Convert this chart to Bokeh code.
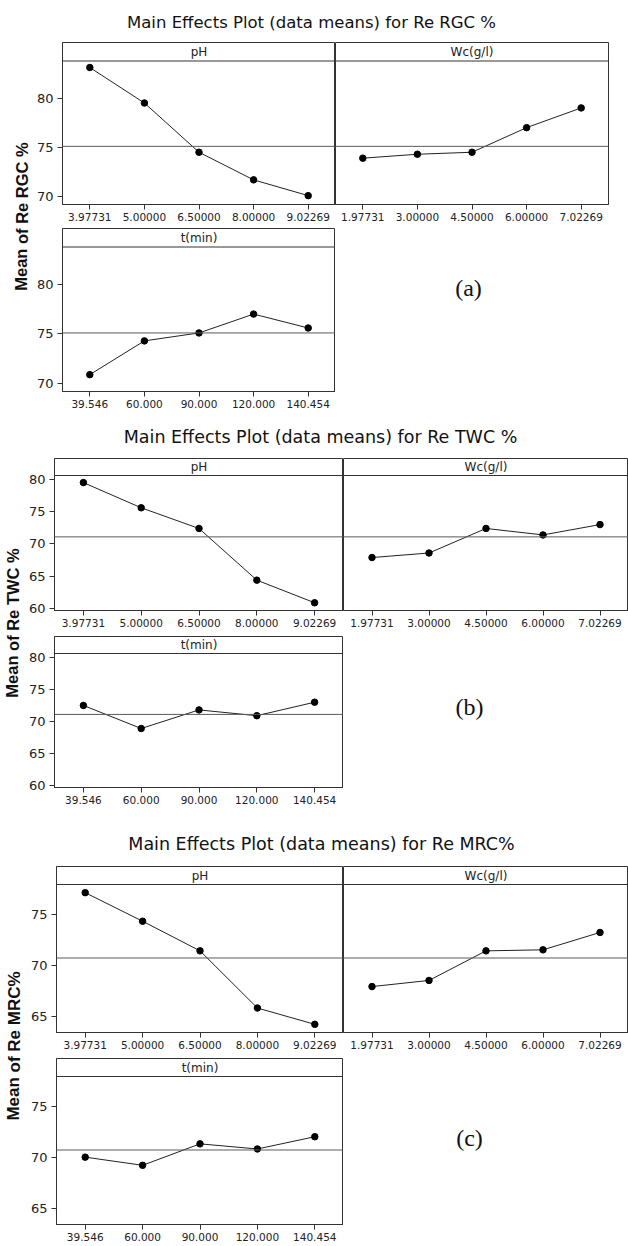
from bokeh.plotting import figure
from bokeh.layouts import column, row
from bokeh.models import FactorRange, Range1d, FixedTicker, Span
from bokeh.core.properties import value
from bokeh.embed import file_html
from bokeh.resources import INLINE

# ---------------- data ----------------
ph_levels = ["3.97731", "5.00000", "6.50000", "8.00000", "9.02269"]
wc_levels = ["1.97731", "3.00000", "4.50000", "6.00000", "7.02269"]
t_levels = ["39.546", "60.000", "90.000", "120.000", "140.454"]
factor_names = ["pH", "Wc(g/l)", "t(min)"]

titles = ["Main Effects Plot (data means) for Re RGC %",
          "Main Effects Plot (data means) for Re TWC %",
          "Main Effects Plot (data means) for Re MRC%"]
ylabels = ["Mean of Re RGC %", "Mean of Re TWC %", "Mean of Re MRC%"]
tags = ["(a)", "(b)", "(c)"]

rgc_ph = [83.1, 79.5, 74.5, 71.7, 70.1]
rgc_wc = [73.9, 74.3, 74.5, 77.0, 79.0]
rgc_t = [70.9, 74.3, 75.1, 77.0, 75.6]
rgc_mean = 75.1

twc_ph = [79.5, 75.6, 72.4, 64.4, 60.9]
twc_wc = [67.9, 68.6, 72.4, 71.4, 73.0]
twc_t = [72.5, 68.9, 71.8, 70.9, 73.0]
twc_mean = 71.1

mrc_ph = [77.1, 74.3, 71.4, 65.8, 64.2]
mrc_wc = [67.9, 68.5, 71.4, 71.5, 73.2]
mrc_t = [70.0, 69.2, 71.3, 70.8, 72.0]
mrc_mean = 70.7

rgc_yticks = [70, 75, 80]
twc_yticks = [60, 65, 70, 75, 80]
mrc_yticks = [65, 70, 75]

# ---------------- styles / geometry ----------------
W = 628
LINE = "#222222"
BOX = "#333333"
MEANC = "#5a5a5a"
FONT = "DejaVu Sans"

geom = [
    dict(ylo=69.2, yhi=83.76, label_w=33, lb=27, fwl=275, fwr=273, rb=20,
         title_h=42, title_x=311, title_y=22, title_fs="16.5px",
         uf=162, ub=24, lf=163, lbb=25, header=18.5,
         label_x=21, label_y=174, label_fs="16.5px",
         tag_x=133, tag_y=69),
    dict(ylo=59.7, yhi=80.6, label_w=24, lb=30, fwl=289, fwr=285, rb=0,
         title_h=42, title_x=320, title_y=20, title_fs="17.5px",
         uf=152, ub=26, lf=151, lbb=35, header=17,
         label_x=12, label_y=164.5, label_fs="16.5px",
         tag_x=126, tag_y=87),
    dict(ylo=63.4, yhi=77.9, label_w=26, lb=30, fwl=287, fwr=285, rb=0,
         title_h=44, title_x=321, title_y=21, title_fs="17.5px",
         uf=166, ub=26, lf=166, lbb=22, header=18,
         label_x=13.5, label_y=179.5, label_fs="17px",
         tag_x=126, tag_y=90),
]


def text_fig(w, h):
    p = figure(width=w, height=h, x_range=Range1d(0, w), y_range=Range1d(h, 0),
               output_backend="svg", toolbar_location=None,
               x_axis_location=None, y_axis_location=None,
               min_border=0, min_border_left=0, min_border_right=0,
               min_border_top=0, min_border_bottom=0,
               outline_line_color=None, background_fill_color="white",
               border_fill_color="white")
    p.grid.visible = False
    return p


def panel(levels, vals, mean, name, yticks, g, frame_w, frame_h, bottom,
          left, right, show_y):
    ylo, yhi, hp = g["ylo"], g["yhi"], g["header"]
    ytop = yhi + hp * (yhi - ylo) / (frame_h - hp)
    p = figure(width=left + frame_w + right, height=frame_h + bottom,
               x_range=FactorRange(factors=levels),
               y_range=Range1d(ylo, ytop),
               output_backend="svg", toolbar_location=None,
               y_axis_location="left" if show_y else None,
               min_border_left=left, min_border_right=right,
               min_border_top=0, min_border_bottom=bottom,
               background_fill_color="white", border_fill_color="white",
               outline_line_color=BOX, outline_line_width=1)
    p.grid.visible = False
    # header separator and grand mean
    p.add_layout(Span(location=yhi, dimension="width", line_color=BOX, line_width=1))
    p.add_layout(Span(location=mean, dimension="width", line_color=MEANC, line_width=1))
    p.line(levels, vals, line_color=LINE, line_width=1)
    p.scatter(levels, vals, size=6.5, fill_color="black", line_color="black")
    p.text(x=[levels[2]], y=[(yhi + ytop) / 2], text=[name],
           text_font=value(FONT), text_font_size="12px", text_color="#222222",
           text_align="center", text_baseline="middle")
    xa = p.xaxis[0]
    xa.major_label_text_font = FONT
    xa.major_label_text_font_size = "10.5px"
    xa.major_label_text_color = "#222222"
    xa.major_tick_out = 5
    xa.major_tick_in = 0
    xa.major_label_standoff = 3
    xa.axis_line_color = BOX
    xa.major_tick_line_color = BOX
    xa.minor_tick_line_color = None
    if show_y:
        ya = p.yaxis[0]
        ya.ticker = FixedTicker(ticks=yticks, minor_ticks=[])
        ya.major_label_text_font = FONT
        ya.major_label_text_font_size = "13px"
        ya.major_label_text_color = "#222222"
        ya.major_tick_out = 5
        ya.major_tick_in = 0
        ya.major_label_standoff = 4
        ya.axis_line_color = BOX
        ya.major_tick_line_color = BOX
    return p


def section(i, ph_vals, wc_vals, t_vals, mean, yticks):
    g = geom[i]
    title_f = text_fig(W, g["title_h"])
    title_f.text(x=[g["title_x"]], y=[g["title_y"]], text=[titles[i]],
                 text_font=value(FONT), text_font_size=g["title_fs"],
                 text_color="#111111", text_align="center", text_baseline="middle")

    grid_h = g["uf"] + g["ub"] + g["lf"] + g["lbb"]
    label_f = text_fig(g["label_w"], grid_h)
    label_f.text(x=[g["label_x"]], y=[g["label_y"]], text=[ylabels[i]],
                 angle=1.5707963, text_font=value("Liberation Sans"),
                 text_font_style="bold", text_font_size=g["label_fs"],
                 text_color="#111111", text_align="center", text_baseline="middle")

    p_ph = panel(ph_levels, ph_vals, mean, factor_names[0], yticks, g,
                 g["fwl"], g["uf"], g["ub"], g["lb"], 0, True)
    p_wc = panel(wc_levels, wc_vals, mean, factor_names[1], yticks, g,
                 g["fwr"], g["uf"], g["ub"], 0, g["rb"], False)
    p_t = panel(t_levels, t_vals, mean, factor_names[2], yticks, g,
                g["fwl"], g["lf"], g["lbb"], g["lb"], 0, True)
    tag_w = g["fwr"] + g["rb"]
    tag_h = g["lf"] + g["lbb"]
    tag_f = text_fig(tag_w, tag_h)
    tag_f.text(x=[g["tag_x"]], y=[g["tag_y"]], text=[tags[i]],
               text_font=value("Liberation Serif"), text_font_size="24px",
               text_color="#111111", text_align="center", text_baseline="middle")

    grid = column(row(p_ph, p_wc), row(p_t, tag_f))
    return column(title_f, row(label_f, grid))


page = column(
    section(0, rgc_ph, rgc_wc, rgc_t, rgc_mean, rgc_yticks),
    section(1, twc_ph, twc_wc, twc_t, twc_mean, twc_yticks),
    section(2, mrc_ph, mrc_wc, mrc_t, mrc_mean, mrc_yticks),
)

open("out.html", "w").write(file_html(page, INLINE))
